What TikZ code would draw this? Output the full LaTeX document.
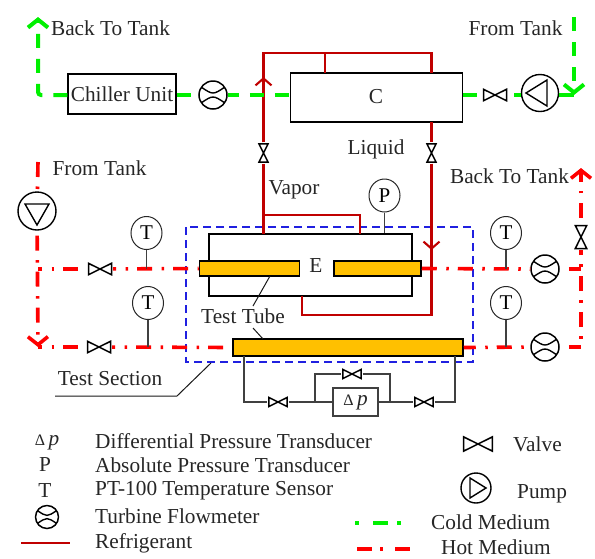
\documentclass[tikz,border=0pt]{standalone}
\usepackage{fontspec}
\setmainfont{Liberation Serif}
\usetikzlibrary{arrows.meta,shapes.geometric,calc}
\definecolor{coldgreen}{HTML}{00F000}
\definecolor{hotred}{HTML}{FF0000}
\definecolor{refrigred}{HTML}{C00000}
\definecolor{tubeorange}{HTML}{FFC000}
\definecolor{sectionblue}{HTML}{2020E0}
\definecolor{wiregray}{HTML}{404040}
\tikzset{
  lab/.style={inner sep=0pt,font=\fontsize{21.3}{23}\selectfont,text=black!85},
  unitbox/.style={draw=black,line width=1.3pt,inner sep=0pt},
  tubebox/.style={draw=black,fill=tubeorange,line width=1.5pt,inner sep=0pt},
  gauge/.style={draw=black!85,ellipse,line width=1pt,minimum width=31pt,minimum height=33pt,inner sep=0pt,font=\fontsize{21}{23}\selectfont},
  flowmeter/.style={draw=black,circle,line width=1.5pt,minimum size=28*#1,inner sep=0pt,
    path picture={\draw[line width=1.4pt,shift={(path picture bounding box.center)}]
      (-12*#1,-8*#1) .. controls (0,0) .. (12*#1,-8*#1) (-12*#1,8*#1) .. controls (0,0) .. (12*#1,8*#1);}},
  flowmeter/.default=1,
  pumpbox/.style={draw=black,circle,line width=1.4pt,minimum size=#1,inner sep=0pt},
  valvebox/.style={minimum width=26*#1,minimum height=14*#1,inner sep=0pt,
    path picture={\draw[line width=1.5pt,shift={(path picture bounding box.center)}]
      (-11.5*#1,-5.7*#1)--(11.5*#1,5.7*#1)--(11.5*#1,-5.7*#1)--(-11.5*#1,5.7*#1)--cycle;}},
  valvebox/.default=1,
  valveup/.style={minimum width=14*#1,minimum height=26*#1,inner sep=0pt,
    path picture={\draw[line width=1.5pt,shift={(path picture bounding box.center)}]
      (-5.7*#1,-11.5*#1)--(5.7*#1,11.5*#1)--(-5.7*#1,11.5*#1)--(5.7*#1,-11.5*#1)--cycle;}},
  valveup/.default=1,
  cold/.style={draw=coldgreen,line width=4pt,dash pattern=on 14pt off 11pt},
  hot/.style={draw=hotred,line width=3.6pt,dash pattern=on 15pt off 9.5pt on 2.5pt off 9pt},
  refrig/.style={draw=refrigred,line width=2.1pt},
  wire/.style={draw=wiregray,line width=1.2pt},
  leader/.style={draw=black!90,line width=1pt},
  coldtip/.style={-{Straight Barb[length=8pt,width=20pt,line width=4pt]}},
  hottip/.style={-{Straight Barb[length=8pt,width=20pt,line width=3.6pt]}},
  refrigtip/.style={-{Straight Barb[length=7pt,width=16pt,line width=2.1pt]}},
}
\begin{document}
\begin{tikzpicture}[x=1pt,y=-1pt]
\useasboundingbox (0,0) rectangle (595,558);
% main components
\node[unitbox,minimum width=108pt,minimum height=40pt,lab] (chiller) at (122,94) {Chiller Unit};
\node[flowmeter] (coldmeter) at (213,95) {};
\node[unitbox,minimum width=172pt,minimum height=49pt] (cond) at (376.5,97.5) {};
\node[lab] (condlab) at (376,97) {C};
\node[valvebox] (coldvalve) at (495,95) {};
\node[pumpbox=37pt] (coldpump) at (540,93) {};
\draw[line width=1.4pt] ($(coldpump)+(-14,0)$)--($(coldpump)+(7,-13)$)--($(coldpump)+(7,13)$)--cycle;
\node[pumpbox=38pt] (hotpump) at (37,211) {};
\draw[line width=1.4pt] ($(hotpump)+(0,14)$)--($(hotpump)+(-12,-7)$)--($(hotpump)+(12,-7)$)--cycle;
% evaporator and test tubes
\node[unitbox,minimum width=203pt,minimum height=62pt] (evap) at (310.5,265) {};
\node[tubebox,minimum width=100pt,minimum height=15pt] (tubeleft) at (249.5,268.5) {};
\node[tubebox,minimum width=87pt,minimum height=15pt] (tuberight) at (377.5,268.5) {};
\node[lab] (evaplab) at (316,266) {E};
\node[tubebox,minimum width=230pt,minimum height=17pt] (tubelow) at (348,347.5) {};
% blue frame
\draw[sectionblue,line width=1.1pt,dash pattern=on 8pt off 5pt] (186,227) rectangle (473,362);
% refrigerant circuit
\node[valveup=.8] (vaporvalve) at (263.5,153) {};
\node[valveup=.8] (liquidvalve) at (431.5,153) {};
\coordinate (vaportop) at (263.5,53);
\coordinate (vapordown) at (263.5,234);
\coordinate (vaporarrow) at (263.5,77);
\coordinate (vaporjoin) at (263.5,215);
\coordinate (vaporcorner) at (360,215);
\coordinate (vaporend) at (360,234);
\coordinate (condone) at (325,73);
\coordinate (condonetop) at (325,53);
\coordinate (condtwo) at (431.5,73);
\coordinate (condtwotop) at (431.5,53);
\coordinate (liquidtop) at (431.5,122);
\coordinate (liquidarrow) at (431.5,250);
\coordinate (liquidcorner) at (431.5,315);
\coordinate (evapcorner) at (302,315);
\coordinate (evapend) at (302,296);
\draw[refrig] (vapordown)--(vaporvalve);
\draw[refrig] (vaporvalve)--(vaportop)--(condtwotop)--(condtwo);
\draw[refrig,refrigtip] (vaporvalve)--(vaporarrow);
\draw[refrig] (condonetop)--(condone);
\draw[refrig] (vaporjoin)--(vaporcorner)--(vaporend);
\draw[refrig] (liquidtop)--(liquidvalve);
\draw[refrig] (liquidvalve)--(liquidcorner)--(evapcorner)--(evapend);
\draw[refrig,refrigtip] (liquidvalve)--(liquidarrow);
% cold medium
\coordinate (coldleft) at (38,95);
\coordinate (coldtop) at (38,17);
\coordinate (coldright) at (574,95);
\coordinate (coldstart) at (574,17);
\draw[cold,coldtip,rounded corners=3pt] (chiller.west |- coldleft)--(coldleft)--(coldtop);
\draw[cold] (chiller.east |- coldmeter)--(coldmeter.west);
\draw[cold,dash phase=3pt] (coldmeter.east)--(cond.west |- coldmeter);
\draw[cold] (cond.east |- coldvalve)--(coldvalve.west);
\draw[cold,dash phase=19pt] (coldvalve.east)--(coldpump.west |- coldvalve);
\draw[cold,coldtip] (coldstart)--(coldright);
\draw[draw=coldgreen,line width=4pt] (coldpump.east |- coldright)--(coldright);
% hot medium
\node[valvebox] (hotvalvetop) at (100,269) {};
\node[valvebox] (hotvalvelow) at (99,347) {};
\node[flowmeter] (hotmetertop) at (545,269) {};
\node[flowmeter] (hotmeterlow) at (545,347) {};
\node[valveup] (hotvalveright) at (581,237) {};
\coordinate (hotstart) at (38,162);
\coordinate (hotleft) at (38,269);
\coordinate (hotlow) at (38,347);
\coordinate (hotcorner) at (581,347);
\coordinate (hotmid) at (581,269);
\coordinate (hotend) at (581,168);
\draw[hot] (hotstart)--(hotpump);
\draw[hot,hottip,dash phase=31pt] (hotpump)--(hotlow);
\draw[hot,dash phase=11pt] (hotleft)--(hotvalvetop);
\draw[hot,dash phase=12pt] (hotvalvetop)--(tubeleft.west);
\draw[hot,dash phase=11pt] (hotlow)--(hotvalvelow);
\draw[hot,dash phase=12pt] (hotvalvelow)--(tubelow.west);
\draw[hot] (tuberight.east)--(hotmetertop.west);
\draw[hot,dash phase=3pt] (tubelow.east)--(hotmeterlow.west);
\draw[hot,dash phase=27pt] (hotmetertop.east)--(hotmid);
\draw[hot,dash phase=27pt] (hotmeterlow.east)--(hotcorner);
\draw[hot,dash phase=16pt] (hotcorner)--(hotvalveright);
\draw[hot,hottip,dash phase=30pt] (hotvalveright)--(hotend);
% sensors
\node[gauge] (pgauge) at (384.5,195.5) {P};
\node[gauge] (ttopleft) at (146.5,233) {T};
\node[gauge] (tlowleft) at (148,303) {T};
\node[gauge] (ttopright) at (506,233) {T};
\node[gauge] (tlowright) at (506,303) {T};
\draw[wire] (pgauge)--(pgauge |- evap.north);
\draw[wire] (ttopleft)--(ttopleft |- hotvalvetop);
\draw[wire] (tlowleft)--(tlowleft |- hotvalvelow);
\draw[wire] (ttopright)--(ttopright |- hotmetertop);
\draw[wire] (tlowright)--(tlowright |- hotmeterlow);
% pressure drop branch
\node[draw=wiregray,line width=1.1pt,minimum width=45pt,minimum height=28pt,inner sep=0pt,lab] (dpbox) at (355.5,402) {{\fontsize{16}{16}\selectfont Δ}\,\textit{p}};
\node[valvebox=.8] (dpvalveleft) at (278,402) {};
\node[valvebox=.8] (dpvalveright) at (424,402) {};
\node[valvebox=.8] (dpvalvetop) at (352,374) {};
\coordinate (dpleft) at (244,356);
\coordinate (dpleftlow) at (244,402);
\coordinate (dpright) at (455,356);
\coordinate (dprightlow) at (455,402);
\coordinate (bypassleft) at (315,402);
\coordinate (bypassright) at (390,402);
\draw[wire] (dpleft)--(dpleftlow)--(dpvalveleft)--(dpbox);
\draw[wire] (dpbox)--(dpvalveright)--(dprightlow)--(dpright);
\draw[wire] (bypassleft)--(bypassleft |- dpvalvetop)--(dpvalvetop)--(bypassright |- dpvalvetop)--(bypassright);
% labels
\node[lab] (backcold) at (110.5,28) {Back To Tank};
\node[lab] (fromcold) at (515.5,28) {From Tank};
\node[lab] (fromhot) at (99.5,168) {From Tank};
\node[lab] (backhot) at (509.5,176) {Back To Tank};
\node[lab] (liquidlab) at (376,149) {Liquid};
\node[lab] (vaporlab) at (294,190) {Vapor};
\node[lab] (tubelab) at (243,316) {Test Tube};
\node[lab] (sectionlab) at (110,379) {Test Section};
\coordinate (tubetick) at (270,276);
\coordinate (tubetickend) at (253,306);
\coordinate (lowtickstart) at (253,328);
\coordinate (lowtick) at (263,339);
\coordinate (sectiontick) at (211,363);
\coordinate (sectionknee) at (177,396);
\coordinate (sectionend) at (55,396);
\draw[leader] (tubetick)--(tubetickend);
\draw[leader] (lowtickstart)--(lowtick);
\draw[leader] (sectiontick)--(sectionknee)--(sectionend);
% legend
\node[lab] (legdp) at (47,442) {{\fontsize{16}{16}\selectfont Δ}\,\textit{p}};
\node[lab] (legp) at (45,465) {P};
\node[lab] (legt) at (45,491) {T};
\node[flowmeter=.82] (legmeter) at (47,517) {};
\coordinate (legrefa) at (21,543);
\coordinate (legrefb) at (70,543);
\draw[refrig] (legrefa)--(legrefb);
\node[lab,anchor=west] (txtdp) at (95,441) {Differential Pressure Transducer};
\node[lab,anchor=west] (txtp) at (95,465) {Absolute Pressure Transducer};
\node[lab,anchor=west] (txtt) at (95,491) {PT-100 Temperature Sensor};
\node[lab,anchor=west] (txtm) at (95,516) {Turbine Flowmeter};
\node[lab,anchor=west] (txtr) at (95,543) {Refrigerant};
\node[valvebox=1.25] (legvalve) at (478,444) {};
\node[lab,anchor=west] (txtvalve) at (513,444) {Valve};
\node[pumpbox=30pt] (legpump) at (476,488) {};
\draw[line width=1.4pt] ($(legpump)+(10,0)$)--($(legpump)+(-6,-10)$)--($(legpump)+(-6,10)$)--cycle;
\node[lab,anchor=west] (txtpump) at (517,494) {Pump};
\coordinate (legcolda) at (355,523);
\coordinate (legcoldb) at (410,523);
\draw[draw=coldgreen,line width=4pt,dash pattern=on 4pt off 14pt on 15pt off 9pt] (legcolda)--(legcoldb);
\node[lab,anchor=west] (txtcold) at (431,522) {Cold Medium};
\coordinate (leghota) at (357,549);
\coordinate (leghotb) at (410,549);
\draw[hot,dash pattern=on 15pt off 8pt on 3pt off 12pt] (leghota)--(leghotb);
\node[lab,anchor=west] (txthot) at (441,547) {Hot Medium};
\end{tikzpicture}
\end{document}
